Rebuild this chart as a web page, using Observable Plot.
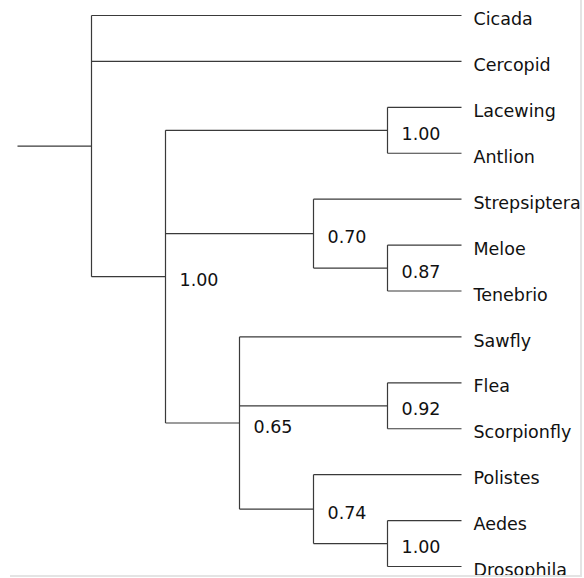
<!DOCTYPE html>
<html>
<head>
<meta charset="utf-8">
<script src="https://cdn.jsdelivr.net/npm/d3@7"></script>
<script src="https://cdn.jsdelivr.net/npm/@observablehq/plot@0.6"></script>
<style>
  html, body { margin: 0; padding: 0; background: #fff; }
  #wrap { position: absolute; left: 0; top: 0; width: 580px; height: 575px; overflow: hidden; border-right: 2px solid #e4e4e4; }
  #bottomline { position: absolute; left: 10px; top: 575px; width: 572px; height: 2px; background: #e4e4e4; }
  svg { display: block; }
</style>
</head>
<body>
<div id="wrap"></div>
<div id="bottomline"></div>
<script>
// Tree data
const leafNames = ["Cicada","Cercopid","Lacewing","Antlion","Strepsiptera","Meloe","Tenebrio","Sawfly","Flea","Scorpionfly","Polistes","Aedes","Drosophila"];
const cladeIds = ["root","n1","n2","n3","n4","n5","n6","n7","n8"];
const cladeChildren = [
  ["Cicada","Cercopid","n1"],
  ["n2","n3","n5"],
  ["Lacewing","Antlion"],
  ["Strepsiptera","n4"],
  ["Meloe","Tenebrio"],
  ["Sawfly","n6","n7"],
  ["Flea","Scorpionfly"],
  ["Polistes","n8"],
  ["Aedes","Drosophila"]
];
const cladeSupport = ["", "1.00", "1.00", "0.70", "0.87", "0.65", "0.92", "0.74", "1.00"];

// Build hierarchy
const childMap = new Map(cladeIds.map((id, i) => [id, cladeChildren[i]]));
const supportMap = new Map(cladeIds.map((id, i) => [id, cladeSupport[i]]));
function build(id) {
  const kids = childMap.get(id);
  return kids ? {name: id, support: supportMap.get(id), children: kids.map(build)} : {name: id};
}
const root = d3.hierarchy(build("root"));
const leafIndex = new Map(leafNames.map((n, i) => [n, i]));
// leaves aligned on the right; inner node at midpoint of its first and last child
root.eachAfter(n => {
  if (!n.children) { n.py = leafIndex.get(n.data.name); }
  else { n.py = (n.children[0].py + n.children[n.children.length - 1].py) / 2; }
  n.px = root.height - n.height;
});

const horiz = [];
const vert = [];
root.each(n => {
  if (n.parent) horiz.push({x1: n.parent.px, x2: n.px, y: n.py});
  else horiz.push({x1: n.px - 1, x2: n.px, y: n.py});
  if (n.children) vert.push({x: n.px, y1: n.children[0].py, y2: n.children[n.children.length - 1].py});
});
const leaves = root.leaves().map(n => ({x: n.px, y: n.py, name: n.data.name}));
const supports = root.descendants().filter(n => n.children && n.data.support).map(n => ({x: n.px, y: n.py, label: n.data.support}));

const stroke = "#3a3a3a";
const chart = Plot.plot({
  width: 580,
  height: 575,
  marginTop: 15,
  marginBottom: 9,
  marginLeft: 91,
  marginRight: 119,
  x: {domain: [0, root.height], axis: null},
  y: {domain: [0, leafNames.length - 1], axis: null, reverse: true},
  style: {fontFamily: "'DejaVu Sans', Verdana, sans-serif", background: "white", overflow: "visible"},
  marks: [
    Plot.link(horiz, {x1: "x1", x2: "x2", y1: "y", y2: "y", stroke, strokeWidth: 1.2}),
    Plot.link(vert, {x1: "x", x2: "x", y1: "y1", y2: "y2", stroke, strokeWidth: 1.2}),
    Plot.text(leaves, {x: "x", y: "y", text: "name", textAnchor: "start", dx: 12, dy: 4, fontSize: 17.5, fill: "#111"}),
    Plot.text(supports, {x: "x", y: "y", text: "label", textAnchor: "start", dx: 14, dy: 4, fontSize: 17.5, fill: "#111"})
  ]
});
document.getElementById("wrap").appendChild(chart);
</script>
</body>
</html>
